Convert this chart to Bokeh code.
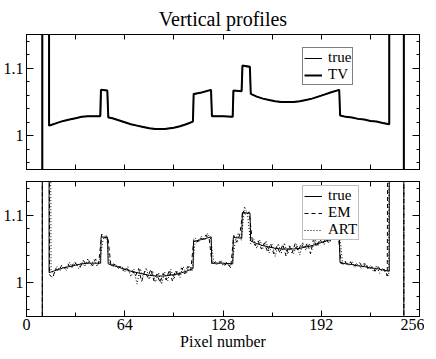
from bokeh.plotting import figure
from bokeh.models import (Range1d, LinearAxis, FixedTicker, Legend, LegendItem,
                          CustomJSTickFormatter)
from bokeh.layouts import column
from bokeh.embed import file_html
from bokeh.resources import INLINE

FONT = "Liberation Serif"

# ---------------- data ----------------
# true profile (pixel, value); edges leave the plotted range
true_x = [0, 10.3, 10.3, 14.7, 14.7, 16, 20, 24, 28, 32, 36, 40,
          48.3, 48.6, 52.8, 53.2, 56, 60, 64, 68, 72, 76, 80, 84, 90, 96, 100, 104,
          108.5, 108.8, 114, 120.3, 120.7, 128, 134.4, 134.7, 140.2, 140.6, 145.6, 146.0,
          150, 154, 158, 162, 166, 174, 178, 182, 186, 190, 194, 198,
          203.8, 204.2, 208, 212, 216, 220, 224, 228, 232, 236.3, 236.3, 245.8, 245.8, 256]
true_y = [0, 0, 1.9, 1.9, 1.015, 1.016, 1.019, 1.022, 1.024, 1.026, 1.028, 1.029,
          1.029, 1.068, 1.067, 1.028, 1.026, 1.023, 1.020, 1.017, 1.015, 1.013, 1.011, 1.010, 1.010, 1.012, 1.014, 1.017,
          1.021, 1.061, 1.064, 1.068, 1.029, 1.029, 1.028, 1.067, 1.066, 1.104, 1.103, 1.062,
          1.058, 1.055, 1.053, 1.051, 1.050, 1.050, 1.051, 1.053, 1.055, 1.058, 1.061, 1.064,
          1.068, 1.030, 1.028, 1.027, 1.025, 1.024, 1.022, 1.021, 1.019, 1.017, 1.9, 1.9, 0, 0]

# TV reconstruction
tv_x = [0, 10.3, 10.3, 14.7, 14.7, 16, 20, 24, 28, 32, 36, 40,
        48.0, 48.5, 52.6, 53.3, 56, 60, 64, 68, 72, 76, 80, 84, 90, 96, 100, 104,
        108.4, 108.9, 114, 120.2, 120.8, 128, 134.3, 134.8, 140.1, 140.7, 145.5, 146.1,
        150, 154, 158, 162, 166, 174, 178, 182, 186, 190, 194, 198,
        203.7, 204.3, 208, 212, 216, 220, 224, 228, 232, 236.3, 236.3, 245.8, 245.8, 256]
tv_y = [0, 0, 1.9, 1.9, 1.015, 1.016, 1.019, 1.022, 1.024, 1.026, 1.028, 1.029,
        1.029, 1.068, 1.067, 1.027, 1.026, 1.023, 1.020, 1.017, 1.015, 1.013, 1.011, 1.010, 1.010, 1.012, 1.014, 1.017,
        1.021, 1.062, 1.064, 1.068, 1.029, 1.029, 1.028, 1.067, 1.066, 1.104, 1.102, 1.062,
        1.058, 1.055, 1.053, 1.051, 1.050, 1.050, 1.051, 1.053, 1.055, 1.058, 1.061, 1.064,
        1.068, 1.030, 1.028, 1.027, 1.025, 1.024, 1.022, 1.021, 1.019, 1.017, 1.9, 1.9, 0, 0]

# edges shared by the noisy reconstructions
edge_left_x = [0, 10.3, 10.3, 14.7]
edge_left_y = [0, 0, 1.9, 1.9]
edge_right_x = [236.3, 245.8, 245.8, 256]
edge_right_y = [1.9, 1.9, 0, 0]

# EM reconstruction at odd pixels 15..235
em_px = list(range(15, 236, 2))
em_val = [1.012, 1.007, 1.021, 1.018, 1.026, 1.021, 1.028, 1.021, 1.031, 1.026,
          1.023, 1.033, 1.027, 1.032, 1.025, 1.035, 1.028, 1.072, 1.066, 1.068,
          1.025, 1.028, 1.023, 1.024, 1.018, 1.023, 1.016, 1.018, 1.010, 1.021,
          1.002, 1.017, 1.008, 1.020, 1.003, 1.013, 1.000, 1.014, 1.004, 1.019,
          1.003, 1.018, 1.009, 1.022, 1.013, 1.024, 1.018, 1.064, 1.060, 1.067,
          1.064, 1.071, 1.065, 1.026, 1.031, 1.028, 1.032, 1.026, 1.029, 1.022,
          1.070, 1.060, 1.072, 1.107, 1.100, 1.105, 1.064, 1.055, 1.062, 1.050,
          1.059, 1.046, 1.058, 1.043, 1.054, 1.045, 1.057, 1.040, 1.055, 1.044,
          1.058, 1.047, 1.058, 1.050, 1.059, 1.043, 1.065, 1.053, 1.065, 1.057,
          1.066, 1.058, 1.068, 1.064, 1.071, 1.028, 1.032, 1.027, 1.031, 1.024,
          1.028, 1.030, 1.022, 1.029, 1.019, 1.024, 1.017, 1.024, 1.018, 1.020, 1.010]

# ART reconstruction at even pixels 16..236
art_px = list(range(16, 237, 2))
art_val = [1.018, 1.014, 1.024, 1.018, 1.024, 1.018, 1.030, 1.023, 1.030, 1.021,
           1.031, 1.024, 1.036, 1.026, 1.034, 1.024, 1.037, 1.065, 1.071, 1.030,
           1.023, 1.028, 1.021, 1.025, 1.016, 1.024, 1.009, 1.020, 0.998, 1.021,
           1.009, 1.022, 1.005, 1.018, 1.001, 1.015, 0.998, 1.016, 1.003, 1.020,
           1.005, 1.018, 1.008, 1.024, 1.013, 1.025, 1.018, 1.066, 1.060, 1.069,
           1.063, 1.073, 1.065, 1.031, 1.026, 1.033, 1.026, 1.031, 1.024, 1.030,
           1.062, 1.074, 1.063, 1.113, 1.101, 1.058, 1.065, 1.051, 1.063, 1.051,
           1.062, 1.044, 1.057, 1.039, 1.058, 1.044, 1.059, 1.042, 1.054, 1.043,
           1.057, 1.041, 1.060, 1.048, 1.058, 1.049, 1.064, 1.055, 1.069, 1.057,
           1.068, 1.062, 1.071, 1.070, 1.073, 1.026, 1.032, 1.026, 1.032, 1.023,
           1.028, 1.021, 1.030, 1.021, 1.025, 1.017, 1.025, 1.014, 1.021, 1.015, 1.010]

x_major = [0, 64, 128, 192, 256]
x_minor = [32, 96, 160, 224]
y_major = [1.0, 1.1]
y_minor = [0.96, 0.98, 1.02, 1.04, 1.06, 1.08, 1.12, 1.14]

em_x = edge_left_x + em_px + edge_right_x
em_y = edge_left_y + em_val + edge_right_y
art_x = edge_left_x + art_px + edge_right_x
art_y = edge_left_y + art_val + edge_right_y

YFMT = "return tick.toFixed(2).replace(/0+$/, '').replace(/\\.$/, '')"
FRAME_H = 135


def base_axis(ax):
    ax.axis_line_color = "black"
    ax.major_tick_line_color = "black"
    ax.minor_tick_line_color = "black"
    ax.major_tick_out = 0
    ax.minor_tick_out = 0
    ax.major_label_text_font = FONT
    ax.major_label_text_font_size = "16px"
    ax.major_label_text_color = "black"
    ax.major_label_standoff = 2


def tick_only_axis(positions, length):
    # axis carrying only (minor) ticks, no labels
    ax = LinearAxis(ticker=FixedTicker(ticks=[], minor_ticks=positions))
    base_axis(ax)
    ax.major_tick_in = 0
    ax.minor_tick_in = length
    ax.major_label_standoff = 0
    return ax


def make_fig(min_top, min_bottom, xlabels):
    p = figure(frame_width=393, frame_height=FRAME_H,
               x_range=Range1d(0, 256), y_range=Range1d(0.95, 1.15),
               x_axis_location=None, y_axis_location=None,
               output_backend="svg", toolbar_location=None,
               min_border_left=20, min_border_right=5,
               min_border_top=min_top, min_border_bottom=min_bottom)
    p.grid.visible = False
    p.outline_line_color = "black"
    p.outline_line_width = 1
    p.background_fill_color = "white"
    p.border_fill_color = "white"

    # x axes
    if xlabels:
        ax = LinearAxis(ticker=FixedTicker(ticks=x_major, minor_ticks=x_minor))
        base_axis(ax)
        ax.major_tick_in = 6
        ax.minor_tick_in = 4
        ax.axis_label = "Pixel number"
        ax.axis_label_text_font = FONT
        ax.axis_label_text_font_size = "16px"
        ax.axis_label_text_font_style = "normal"
        ax.axis_label_text_color = "black"
        ax.axis_label_standoff = 0
        p.add_layout(ax, "below")
    else:
        p.add_layout(tick_only_axis(x_major + x_minor, 5), "below")
    p.add_layout(tick_only_axis(x_major + x_minor, 5), "above")

    # y axes
    ay = LinearAxis(ticker=FixedTicker(ticks=y_major, minor_ticks=y_minor),
                    formatter=CustomJSTickFormatter(code=YFMT))
    base_axis(ay)
    ay.major_tick_in = 7
    ay.minor_tick_in = 3
    ay.major_label_standoff = 3
    p.add_layout(ay, "left")
    p.add_layout(tick_only_axis(y_minor + y_major, 3), "right")
    p.add_layout(tick_only_axis(y_major, 7), "right")
    return p


def style_legend(lg, border):
    lg.label_text_font = FONT
    lg.label_text_font_size = "15px"
    lg.label_text_color = "black"
    lg.label_height = 14
    lg.glyph_height = 14
    lg.glyph_width = 18
    lg.label_standoff = 6
    lg.padding = 1
    lg.spacing = 0
    lg.margin = 0
    lg.border_line_color = border
    lg.border_line_width = 1
    lg.background_fill_color = "white"
    lg.background_fill_alpha = 1


# ---------------- top panel ----------------
p1 = make_fig(28, 12, False)
p1.title.text = "Vertical profiles"
p1.title.text_font = FONT
p1.title.text_font_size = "20px"
p1.title.text_font_style = "normal"
p1.title.align = "center"
p1.title.text_color = "black"
r_true1 = p1.line(true_x, true_y, line_color="black", line_width=1)
r_tv = p1.line(tv_x, tv_y, line_color="black", line_width=2)
lg1 = Legend(items=[LegendItem(label="true", renderers=[r_true1]),
                    LegendItem(label="TV", renderers=[r_tv])],
             location=(276, FRAME_H - 11 - 40))
style_legend(lg1, "black")
p1.add_layout(lg1)

# ---------------- bottom panel ----------------
p2 = make_fig(0, 20, True)
r_true2 = p2.line(true_x, true_y, line_color="black", line_width=1)
r_em = p2.line(em_x, em_y, line_color="black", line_width=1, line_dash="4 3")
r_art = p2.line(art_x, art_y, line_color="black", line_width=1, line_dash="1 2")
lg2 = Legend(items=[LegendItem(label="true", renderers=[r_true2]),
                    LegendItem(label="EM", renderers=[r_em]),
                    LegendItem(label="ART", renderers=[r_art])],
             location=(276, FRAME_H - 59))
style_legend(lg2, "gray")
p2.add_layout(lg2)

layout = column(p1, p2)
open("out.html", "w").write(file_html(layout, INLINE))
